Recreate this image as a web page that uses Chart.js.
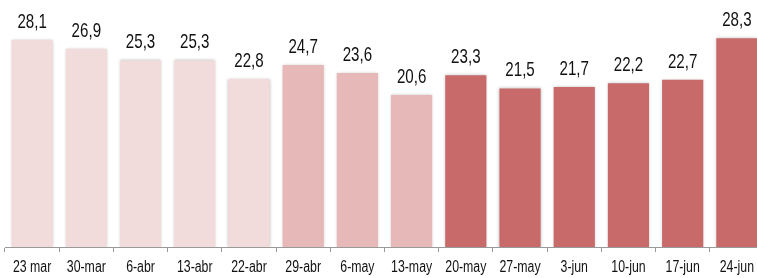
<!DOCTYPE html>
<html>
<head>
<meta charset="utf-8">
<script src="https://cdn.jsdelivr.net/npm/chart.js@4"></script>
<style>
    body { margin: 0; overflow: hidden; background: #fff; }
</style>
</head>
<body>
<canvas id="weeklyChart" width="770" height="278"></canvas>
<script>
const weeks = ['23 mar', '30-mar', '6-abr', '13-abr', '22-abr', '29-abr', '6-may',
    '13-may', '20-may', '27-may', '3-jun', '10-jun', '17-jun', '24-jun'];
const values = [28.1, 26.9, 25.3, 25.3, 22.8, 24.7, 23.6, 20.6, 23.3, 21.5, 21.7, 22.2, 22.7, 28.3];
// which colour group each week belongs to
const phase = [0, 0, 0, 0, 0, 1, 1, 1, 2, 2, 2, 2, 2, 2];
const phaseColors = ['#F2DCDB', '#E6B9B8', '#C86A69'];

const fontFamily = "'Liberation Sans', sans-serif";

// condensed text: no narrow font installed, so squeeze horizontally
function narrowText(ctx, text, x, y, squeeze) {
    ctx.save();
    ctx.translate(x, y);
    ctx.scale(squeeze, 1);
    ctx.fillText(text, 0, 0);
    ctx.restore();
}

// value above every bar, week name under every category
const textLabels = {
    id: 'textLabels',
    afterDraw(chart) {
        const ctx = chart.ctx;
        const meta = chart.getDatasetMeta(0);
        const xScale = chart.scales.x;
        ctx.save();
        ctx.fillStyle = '#111';
        ctx.textAlign = 'center';

        ctx.font = '21px ' + fontFamily;
        ctx.textBaseline = 'alphabetic';
        meta.data.forEach((bar, i) => {
            narrowText(ctx, values[i].toFixed(1).replace('.', ','), bar.x, bar.y - 12, 0.72);
        });

        ctx.font = '16px ' + fontFamily;
        ctx.textBaseline = 'middle';
        weeks.forEach((w, i) => {
            narrowText(ctx, w, xScale.getPixelForTick(i), 268, 0.77);
        });
        ctx.restore();
    }
};

// soft shadow around the bars
const barShadow = {
    id: 'barShadow',
    beforeDatasetsDraw(chart) {
        const ctx = chart.ctx;
        ctx.save();
        ctx.shadowColor = 'rgba(0, 0, 0, 0.25)';
        ctx.shadowBlur = 3;
    },
    afterDatasetsDraw(chart) {
        chart.ctx.restore();
    }
};

const ctx = document.getElementById('weeklyChart').getContext('2d');
new Chart(ctx, {
    type: 'bar',
    data: {
        labels: weeks,
        datasets: [{
            data: values,
            backgroundColor: phase.map(p => phaseColors[p]),
            borderWidth: 0,
            categoryPercentage: 1,
            barPercentage: 0.76
        }]
    },
    options: {
        responsive: false,
        animation: false,
        layout: { padding: { left: 5, right: 6, top: 0, bottom: 26 } },
        plugins: {
            legend: { display: false },
            tooltip: { enabled: false }
        },
        scales: {
            y: {
                display: false,
                min: 0,
                max: 33.5
            },
            x: {
                border: { color: '#999', width: 1 },
                grid: {
                    offset: true,
                    drawOnChartArea: false,
                    tickLength: 5,
                    color: '#999'
                },
                ticks: { display: false }
            }
        }
    },
    plugins: [barShadow, textLabels]
});
</script>
</body>
</html>
